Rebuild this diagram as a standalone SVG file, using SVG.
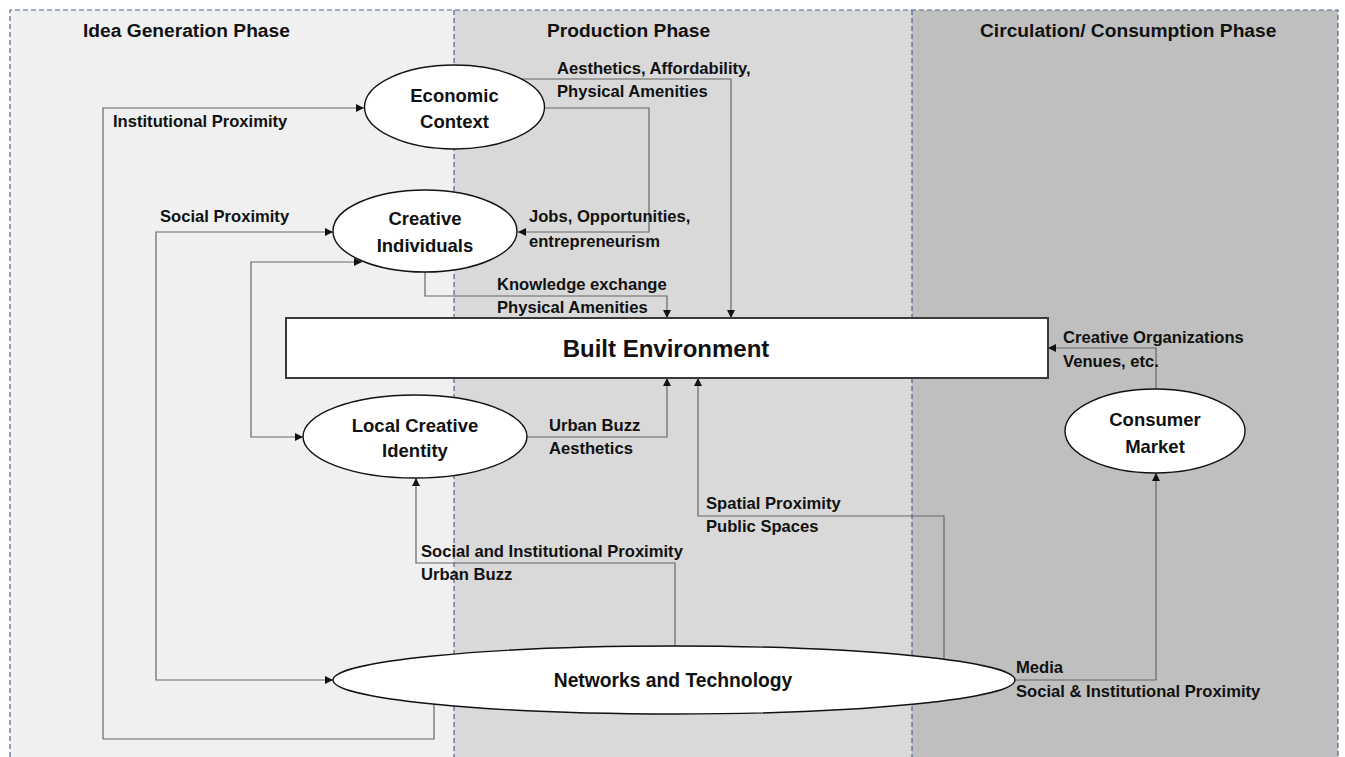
<svg xmlns="http://www.w3.org/2000/svg" width="1345" height="757" viewBox="0 0 1345 757">
  <style>
    .phase-title { font-family: "Liberation Sans", Arial, sans-serif; font-weight: bold; font-size: 19.2px; fill: #111; }
    .node-text { font-family: "Liberation Sans", Arial, sans-serif; font-weight: bold; font-size: 18.5px; fill: #111; text-anchor: middle; }
    .label { font-family: "Liberation Sans", Arial, sans-serif; font-weight: bold; font-size: 16.6px; fill: #111; }
    .node { fill: #ffffff; stroke: #111; stroke-width: 1.4; }
    .conn { fill: none; stroke: #666666; stroke-width: 1.2; }
    .divider { fill: none; stroke: #4a6596; stroke-width: 1.2; stroke-dasharray: 5 3; }
  </style>
  <defs>
    <marker id="arrow" viewBox="0 0 10 10" refX="10" refY="5" markerWidth="8" markerHeight="8" markerUnits="userSpaceOnUse" orient="auto-start-reverse">
      <path d="M0,0 L10,5 L0,10 z" fill="#111"/>
    </marker>
  </defs>

  <!-- background bands for the three phases -->
  <rect x="0" y="0" width="1345" height="757" fill="#ffffff"/>
  <g id="phases">
    <rect x="10" y="10" width="444" height="747" fill="#f0f0f0"/>
    <rect x="454" y="10" width="458" height="747" fill="#d9d9d9"/>
    <rect x="912" y="10" width="426" height="747" fill="#bfbfbf"/>
    <path class="divider" d="M10,757 V10 H1338 V757"/>
    <line class="divider" x1="454" y1="10" x2="454" y2="757"/>
    <line class="divider" x1="912" y1="10" x2="912" y2="757"/>
    <text class="phase-title" x="83" y="37">Idea Generation Phase</text>
    <text class="phase-title" x="547" y="37">Production Phase</text>
    <text class="phase-title" x="980" y="37">Circulation/ Consumption Phase</text>
  </g>

  <!-- connectors with their labels -->
  <g id="connectors">
    <!-- Networks -> Economic Context -->
    <path class="conn" d="M434,704 V739 H103 V108 H364" marker-end="url(#arrow)"/>
    <text class="label" x="113" y="127">Institutional Proximity</text>

    <!-- Networks <-> Creative Individuals -->
    <path class="conn" d="M333,232 H156 V680 H333" marker-start="url(#arrow)" marker-end="url(#arrow)"/>
    <text class="label" x="160" y="222">Social Proximity</text>

    <!-- Creative Individuals <-> Local Creative Identity -->
    <path class="conn" d="M362,262 H251 V437 H303" marker-start="url(#arrow)" marker-end="url(#arrow)"/>

    <!-- Economic Context -> Creative Individuals -->
    <path class="conn" d="M544,108 H649 V232 H518" marker-end="url(#arrow)"/>
    <text class="label" x="529" y="222">Jobs, Opportunities,</text>
    <text class="label" x="529" y="247">entrepreneurism</text>

    <!-- Economic Context -> Built Environment -->
    <path class="conn" d="M517,79 H731 V318" marker-end="url(#arrow)"/>
    <text class="label" x="557" y="74">Aesthetics, Affordability,</text>
    <text class="label" x="557" y="97">Physical Amenities</text>

    <!-- Creative Individuals -> Built Environment -->
    <path class="conn" d="M425,272 V296 H667 V318" marker-end="url(#arrow)"/>
    <text class="label" x="497" y="290">Knowledge exchange</text>
    <text class="label" x="497" y="313">Physical Amenities</text>

    <!-- Local Creative Identity -> Built Environment -->
    <path class="conn" d="M527,437 H667 V378" marker-end="url(#arrow)"/>
    <text class="label" x="549" y="431">Urban Buzz</text>
    <text class="label" x="549" y="454">Aesthetics</text>

    <!-- Networks -> Local Creative Identity -->
    <path class="conn" d="M675,646 V563 H416 V478" marker-end="url(#arrow)"/>
    <text class="label" x="421" y="557">Social and Institutional Proximity</text>
    <text class="label" x="421" y="580">Urban Buzz</text>

    <!-- Networks -> Built Environment -->
    <path class="conn" d="M944,659 V516 H698 V378" marker-end="url(#arrow)"/>
    <text class="label" x="706" y="509">Spatial Proximity</text>
    <text class="label" x="706" y="532">Public Spaces</text>

    <!-- Networks -> Consumer Market -->
    <path class="conn" d="M1015,680 H1156 V473" marker-end="url(#arrow)"/>
    <text class="label" x="1016" y="673">Media</text>
    <text class="label" x="1016" y="697">Social &amp; Institutional Proximity</text>

    <!-- Consumer Market -> Built Environment -->
    <path class="conn" d="M1156,389 V348 H1048" marker-end="url(#arrow)"/>
    <text class="label" x="1063" y="343">Creative Organizations</text>
    <text class="label" x="1063" y="367">Venues, etc.</text>
  </g>

  <!-- nodes -->
  <g id="economic-context">
    <ellipse class="node" cx="454.5" cy="107" rx="90" ry="42"/>
    <text class="node-text" x="454.5" y="102">Economic</text>
    <text class="node-text" x="454.5" y="128">Context</text>
  </g>
  <g id="creative-individuals">
    <ellipse class="node" cx="425" cy="231" rx="92" ry="41"/>
    <text class="node-text" x="425" y="225">Creative</text>
    <text class="node-text" x="425" y="252">Individuals</text>
  </g>
  <g id="built-environment">
    <rect x="286" y="318" width="762" height="60" fill="#ffffff" stroke="#3a3a3a" stroke-width="2"/>
    <text class="node-text" x="666" y="357" style="font-size:24px">Built Environment</text>
  </g>
  <g id="local-creative-identity">
    <ellipse class="node" cx="415" cy="436.5" rx="112" ry="41.5"/>
    <text class="node-text" x="415" y="432">Local Creative</text>
    <text class="node-text" x="415" y="457">Identity</text>
  </g>
  <g id="consumer-market">
    <ellipse class="node" cx="1155" cy="431" rx="90" ry="42"/>
    <text class="node-text" x="1155" y="426">Consumer</text>
    <text class="node-text" x="1155" y="453">Market</text>
  </g>
  <g id="networks-technology">
    <ellipse class="node" cx="674" cy="680" rx="341" ry="34"/>
    <text class="node-text" x="673" y="687" style="font-size:19.3px">Networks and Technology</text>
  </g>
</svg>
